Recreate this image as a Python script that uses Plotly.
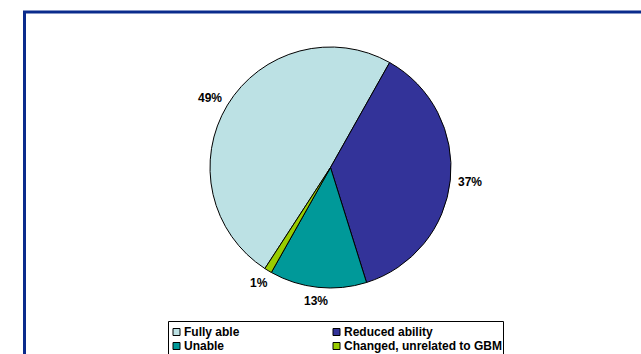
import math
import plotly.graph_objects as go

categories = ["Fully able", "Reduced ability", "Unable", "Changed, unrelated to GBM"]
values = [49, 37, 13, 1]
colors = ["#BCE1E4", "#333399", "#009999", "#99CC00"]

W, H = 641, 354
FONT = "Arial, Liberation Sans, sans-serif"

def px(x):
    return x / W

def py(y):
    return 1 - y / H

# pie geometry (pixels)
CX, CY, R = 330.5, 167.5, 120.5
START = 213.0  # degrees clockwise from 12 o'clock where first slice begins

fig = go.Figure()
fig.add_trace(go.Pie(
    labels=categories,
    values=values,
    sort=False,
    direction="clockwise",
    rotation=START - 360,
    marker=dict(colors=colors, line=dict(color="black", width=1)),
    textinfo="none",
    showlegend=False,
    hoverinfo="label+percent",
    domain=dict(x=[px(CX - R), px(CX + R)], y=[py(CY + R), py(CY - R)]),
))

annotations = []
# percentage labels placed just outside each slice's mid-angle
total = sum(values)
gap = 8
LSIZE = 12
angle = START
for v in values:
    span = v / total * 360
    mid = math.radians(angle + span / 2)
    dx, dy = math.sin(mid), -math.cos(mid)
    txt = f"{round(v / total * 100)}%"
    w = sum(0.556 if ch.isdigit() else 0.889 for ch in txt) * LSIZE
    hw, hh = w / 2, LSIZE / 2
    lx = CX + (R + gap) * dx + hw * dx
    ly = CY + (R + gap) * dy + hh * dy
    annotations.append(dict(xref="paper", yref="paper", x=px(lx), y=py(ly),
                            xanchor="center", yanchor="middle", showarrow=False,
                            text=f"<b>{txt}</b>",
                            font=dict(family=FONT, size=LSIZE, color="black")))
    angle += span

shapes = [
    # outer frame
    dict(type="rect", xref="paper", yref="paper",
         x0=px(24.5), x1=1.05, y0=-0.05, y1=py(12),
         line=dict(color="#0A2B8C", width=3), fillcolor="rgba(0,0,0,0)"),
    # legend box
    dict(type="rect", xref="paper", yref="paper",
         x0=px(168.5), x1=px(503.5), y0=-0.05, y1=py(321.5),
         line=dict(color="black", width=1), fillcolor="white"),
]
legend_pos = [(176.5, 332), (336.5, 332), (176.5, 346), (336.5, 346)]
for name, col, (mx, my) in zip(categories, colors, legend_pos):
    shapes.append(dict(type="rect", xref="paper", yref="paper",
                       x0=px(mx - 3.5), x1=px(mx + 3.5), y0=py(my + 3.5), y1=py(my - 3.5),
                       line=dict(color="black", width=1), fillcolor=col))
    annotations.append(dict(xref="paper", yref="paper", x=px(mx + 5.5), y=py(my),
                            xanchor="left", yanchor="middle", showarrow=False,
                            text=f"<b>{name}</b>",
                            font=dict(family=FONT, size=12, color="black")))

fig.update_layout(
    width=W, height=H,
    margin=dict(l=0, r=0, t=0, b=0),
    paper_bgcolor="white",
    plot_bgcolor="white",
    shapes=shapes,
    annotations=annotations,
)

fig.write_html("out.html")
